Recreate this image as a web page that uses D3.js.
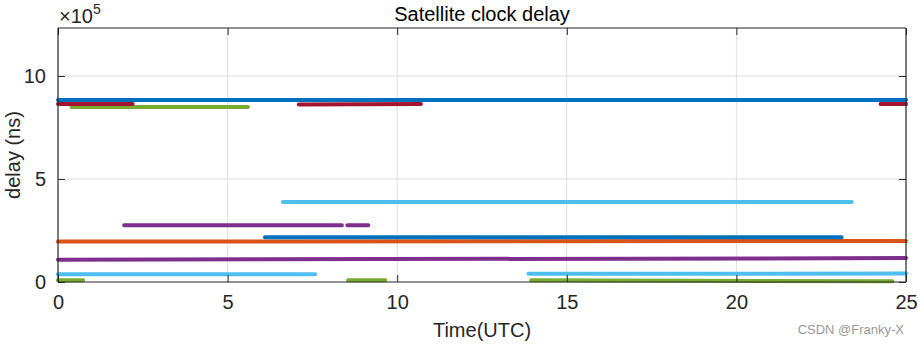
<!DOCTYPE html>
<html><head><meta charset="utf-8">
<script src="https://cdn.jsdelivr.net/npm/d3@7"></script>
<style>body{margin:0;background:#fff;} text{font-family:"Liberation Sans",Arial,sans-serif;}</style>
</head><body><svg id="c" width="918" height="346"></svg>
<script>
// values in units of 1e5 ns; null = gap
const s1Time = [0, 25];                  const s1Delay = [8.83, 8.83];
const s2Time = [0, 25];                  const s2Delay = [1.96, 1.99];
const s3Time = [0, 25];                  const s3Delay = [1.08, 1.16];
const s4Time = [0, 7.58, null, 13.87, 25]; const s4Delay = [0.38, 0.38, null, 0.40, 0.41];
const s5Time = [0, 0.74, null, 8.55, 9.65, null, 13.95, 24.6]; const s5Delay = [0.08, 0.08, null, 0.08, 0.08, null, 0.08, 0.04];
const s6Time = [6.1, 23.1];              const s6Delay = [2.17, 2.17];
const s7Time = [1.95, 8.37, null, 8.53, 9.15]; const s7Delay = [2.75, 2.75, null, 2.75, 2.75];
const s8Time = [6.63, 23.4];             const s8Delay = [3.88, 3.88];
const s9Time = [0.4, 5.6];               const s9Delay = [8.5, 8.5];
const s10Time = [0, 2.2, null, 7.1, 10.7, null, 24.25, 25]; const s10Delay = [8.64, 8.64, null, 8.62, 8.64, null, 8.64, 8.64];

const xTicks = [0, 5, 10, 15, 20, 25];
const yTicks = [0, 5, 10];
const colors = ["#0072BD","#D95319","#7E2F8E","#4DBEEE","#77AC30","#0072BD","#7E2F8E","#4DBEEE","#77AC30","#A2142F"];
const seriesList = [[s1Time,s1Delay],[s2Time,s2Delay],[s3Time,s3Delay],[s4Time,s4Delay],[s5Time,s5Delay],[s6Time,s6Delay],[s7Time,s7Delay],[s8Time,s8Delay],[s9Time,s9Delay],[s10Time,s10Delay]];

const L = 58, R = 906, T = 28, B = 282;
const svg = d3.select("#c");
const x = d3.scaleLinear().domain([0, 25]).range([L, R]);
const y = d3.scaleLinear().domain([0, 12.33]).range([B, T]);

// grid
svg.append("g").selectAll("line").data(xTicks.slice(1, -1)).join("line")
  .attr("x1", d => x(d)).attr("x2", d => x(d)).attr("y1", T).attr("y2", B)
  .attr("stroke", "#dfdfdf").attr("stroke-width", 1);
svg.append("g").selectAll("line").data(yTicks.slice(1)).join("line")
  .attr("y1", d => y(d)).attr("y2", d => y(d)).attr("x1", L).attr("x2", R)
  .attr("stroke", "#dfdfdf").attr("stroke-width", 1);

// lines
const line = d3.line().defined((d) => d[0] !== null).x(d => x(d[0])).y(d => y(d[1]));
seriesList.forEach((s, i) => {
  const pts = s[0].map((t, k) => [t, s[1][k]]);
  svg.append("path").datum(pts).attr("d", line)
    .attr("fill", "none").attr("stroke", colors[i]).attr("stroke-width", 4)
    .attr("stroke-linecap", "round");
});

// axes
const fs = 20;
const xAxis = d3.axisBottom(x).tickValues(xTicks).tickSizeInner(-7).tickSizeOuter(0).tickPadding(13);
const gx = svg.append("g").attr("transform", `translate(0,${B})`).call(xAxis);
const xAxisTop = d3.axisTop(x).tickValues(xTicks).tickSizeInner(-7).tickSizeOuter(0).tickFormat("");
const gxt = svg.append("g").attr("transform", `translate(0,${T})`).call(xAxisTop);
const yAxis = d3.axisLeft(y).tickValues(yTicks).tickSizeInner(-7).tickSizeOuter(0).tickPadding(12);
const gy = svg.append("g").attr("transform", `translate(${L},0)`).call(yAxis);
const yAxisR = d3.axisRight(y).tickValues(yTicks).tickSizeInner(-7).tickSizeOuter(0).tickFormat("");
const gyr = svg.append("g").attr("transform", `translate(${R},0)`).call(yAxisR);
[gx, gxt, gy, gyr].forEach(g => {
  g.select(".domain").attr("stroke", "#262626").attr("stroke-width", 1.2);
  g.selectAll(".tick line").attr("stroke", "#262626");
  g.selectAll(".tick text").attr("fill", "#262626").style("font-size", fs + "px")
    .style("font-family", '"Liberation Sans",Arial,sans-serif');
});
gx.select(".domain").attr("d", `M${L},0H${R}`);
gxt.select(".domain").attr("d", `M${L},0H${R}`);
gy.select(".domain").attr("d", `M0,${T}V${B}`);
gyr.select(".domain").attr("d", `M0,${T}V${B}`);

// exponent
const ex = svg.append("text").attr("x", 59).attr("y", 23).attr("fill", "#262626").style("font-size", "20px");
ex.append("tspan").text("×10");
ex.append("tspan").attr("dy", -9).style("font-size", "14px").text("5");

// title / labels
svg.append("text").attr("x", (L + R) / 2).attr("y", 21).attr("text-anchor", "middle")
  .attr("fill", "#000").style("font-size", "20px").text("Satellite clock delay");
svg.append("text").attr("x", (L + R) / 2).attr("y", 337).attr("text-anchor", "middle")
  .attr("fill", "#262626").style("font-size", "20px").text("Time(UTC)");
svg.append("text").attr("transform", `translate(20,${(T + B) / 2}) rotate(-90)`).attr("text-anchor", "middle")
  .attr("fill", "#262626").style("font-size", "20px").text("delay (ns)");

svg.append("text").attr("x", 904).attr("y", 334).attr("text-anchor", "end")
  .attr("fill", "#999").style("font-size", "13px").text("CSDN @Franky-X");
</script></body></html>
